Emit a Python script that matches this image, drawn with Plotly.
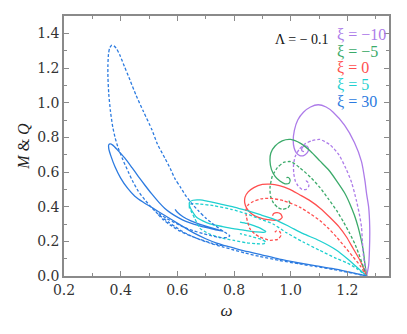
import plotly.graph_objects as go

# ---- data ----
xi_labels = ["ξ = −10", "ξ = −5", "ξ = 0", "ξ = 5", "ξ = 30"]
colors = ["#AD7BE9", "#3BAA6A", "#FF4F4F", "#1FD0D0", "#2C7BE0"]

# xi = -10
w_m10 = [1.268, 1.275, 1.278, 1.279, 1.275, 1.268, 1.262, 1.25, 1.225, 1.19, 1.15, 1.125, 1.097, 1.07, 1.045, 1.025, 1.013, 1.009, 1.012, 1.02, 1.032, 1.046, 1.058, 1.063, 1.058, 1.048, 1.040, 1.040, 1.047]
M_m10 = [0.0, 0.06, 0.15, 0.28, 0.40, 0.473, 0.55, 0.66, 0.77, 0.87, 0.945, 0.975, 0.988, 0.975, 0.945, 0.90, 0.84, 0.78, 0.74, 0.71, 0.695, 0.695, 0.71, 0.73, 0.748, 0.75, 0.738, 0.722, 0.718]
wq_m10 = [1.268, 1.262, 1.256, 1.253, 1.25, 1.242, 1.232, 1.215, 1.195, 1.17, 1.14, 1.103, 1.075, 1.05, 1.030, 1.016, 1.010, 1.011, 1.016, 1.026, 1.040, 1.055, 1.064, 1.062, 1.054, 1.048]
Q_m10 = [0.0, 0.06, 0.13, 0.2, 0.282, 0.36, 0.435, 0.54, 0.62, 0.70, 0.755, 0.788, 0.78, 0.762, 0.73, 0.69, 0.64, 0.59, 0.55, 0.52, 0.50, 0.50, 0.518, 0.538, 0.548, 0.542]

# xi = -5
w_m5 = [1.268, 1.262, 1.256, 1.248, 1.238, 1.225, 1.209, 1.19, 1.162, 1.135, 1.103, 1.07, 1.035, 1.0, 0.97, 0.945, 0.93, 0.927, 0.932, 0.945, 0.962, 0.98, 0.994, 0.998, 0.992, 0.985]
M_m5 = [0.0, 0.07, 0.149, 0.215, 0.282, 0.35, 0.416, 0.48, 0.549, 0.61, 0.664, 0.72, 0.765, 0.788, 0.78, 0.75, 0.71, 0.665, 0.615, 0.575, 0.548, 0.532, 0.535, 0.553, 0.568, 0.568]
wq_m5 = [1.268, 1.257, 1.244, 1.228, 1.209, 1.187, 1.162, 1.133, 1.103, 1.07, 1.032, 1.0, 0.975, 0.953, 0.935, 0.927, 0.929, 0.94, 0.955, 0.972, 0.99, 0.998, 0.994, 0.985]
Q_m5 = [0.0, 0.05, 0.111, 0.18, 0.244, 0.31, 0.378, 0.445, 0.511, 0.57, 0.625, 0.66, 0.655, 0.625, 0.575, 0.51, 0.46, 0.42, 0.395, 0.385, 0.393, 0.415, 0.432, 0.434]

# xi = 0
w_0 = [1.268, 1.257, 1.244, 1.22, 1.197, 1.17, 1.138, 1.105, 1.068, 1.03, 0.997, 0.96, 0.927, 0.90, 0.87, 0.85, 0.839, 0.838, 0.845, 0.856, 0.875, 0.903, 0.935, 0.958, 0.97, 0.965, 0.952, 0.94, 0.936]
M_0 = [0.0, 0.045, 0.092, 0.16, 0.225, 0.285, 0.339, 0.39, 0.435, 0.47, 0.50, 0.522, 0.53, 0.528, 0.51, 0.485, 0.455, 0.42, 0.39, 0.368, 0.345, 0.33, 0.322, 0.322, 0.338, 0.358, 0.366, 0.36, 0.348]
wq_0 = [1.268, 1.26, 1.245, 1.22, 1.19, 1.162, 1.133, 1.103, 1.068, 1.032, 0.974, 0.927, 0.895, 0.868, 0.85, 0.842, 0.844, 0.856, 0.872, 0.891, 0.927, 0.955, 0.966, 0.962, 0.95, 0.944]
Q_0 = [0.0, 0.02, 0.06, 0.111, 0.17, 0.225, 0.275, 0.32, 0.36, 0.397, 0.435, 0.448, 0.445, 0.43, 0.41, 0.38, 0.339, 0.273, 0.245, 0.225, 0.206, 0.212, 0.235, 0.255, 0.26, 0.252]

# xi = 5
w_5 = [1.268, 1.232, 1.2, 1.162, 1.1, 1.044, 0.99, 0.938, 0.89, 0.844, 0.80, 0.75, 0.71, 0.68, 0.655, 0.643, 0.643, 0.652, 0.668, 0.69, 0.715, 0.76, 0.797, 0.84, 0.88, 0.905, 0.912, 0.897, 0.87, 0.845, 0.821]
M_5 = [0.0, 0.053, 0.10, 0.149, 0.205, 0.244, 0.29, 0.33, 0.355, 0.378, 0.398, 0.416, 0.43, 0.439, 0.437, 0.425, 0.405, 0.375, 0.339, 0.318, 0.301, 0.285, 0.273, 0.263, 0.254, 0.252, 0.256, 0.272, 0.29, 0.303, 0.311]
wq_5 = [1.268, 1.232, 1.2, 1.162, 1.1, 1.044, 0.985, 0.938, 0.89, 0.844, 0.79, 0.727, 0.68, 0.655, 0.643, 0.643, 0.65, 0.662, 0.68, 0.71, 0.75, 0.80, 0.844, 0.88, 0.905, 0.912, 0.9, 0.86, 0.821]
Q_5 = [0.0, 0.044, 0.075, 0.101, 0.15, 0.196, 0.25, 0.30, 0.33, 0.359, 0.385, 0.406, 0.415, 0.418, 0.41, 0.39, 0.37, 0.33, 0.275, 0.245, 0.222, 0.205, 0.192, 0.186, 0.186, 0.195, 0.21, 0.228, 0.245]

# xi = 30
w_30 = [1.268, 1.20, 1.15, 1.09, 1.03, 0.96, 0.891, 0.85, 0.809, 0.775, 0.739, 0.70, 0.656, 0.62, 0.585, 0.55, 0.515, 0.48, 0.45, 0.425, 0.40, 0.38, 0.366, 0.358, 0.358, 0.363, 0.372, 0.39, 0.415, 0.44, 0.462, 0.485, 0.509, 0.535, 0.556, 0.58, 0.605, 0.63, 0.66, 0.70, 0.735, 0.762, 0.745, 0.715, 0.68, 0.648, 0.62, 0.60, 0.592]
M_30 = [0.0, 0.025, 0.042, 0.058, 0.075, 0.097, 0.125, 0.14, 0.157, 0.172, 0.19, 0.215, 0.25, 0.285, 0.32, 0.355, 0.39, 0.425, 0.46, 0.505, 0.565, 0.63, 0.69, 0.735, 0.757, 0.762, 0.755, 0.725, 0.68, 0.625, 0.575, 0.525, 0.475, 0.425, 0.39, 0.36, 0.335, 0.315, 0.298, 0.28, 0.266, 0.259, 0.266, 0.28, 0.298, 0.318, 0.342, 0.368, 0.385]
wq_30 = [1.268, 1.20, 1.15, 1.09, 1.03, 0.96, 0.89, 0.84, 0.80, 0.76, 0.72, 0.68, 0.65, 0.62, 0.592, 0.57, 0.545, 0.525, 0.509, 0.485, 0.462, 0.443, 0.427, 0.408, 0.391, 0.38, 0.372, 0.364, 0.358, 0.355, 0.355, 0.357, 0.361, 0.368, 0.376, 0.386, 0.397, 0.413, 0.433, 0.455, 0.48, 0.51, 0.53, 0.556, 0.575, 0.592, 0.61, 0.627, 0.65, 0.675, 0.70, 0.73, 0.76, 0.785, 0.775, 0.75, 0.72, 0.69, 0.655, 0.62, 0.59, 0.56, 0.538, 0.525, 0.532, 0.55, 0.574, 0.61, 0.656, 0.72, 0.76]
Q_30 = [0.0, 0.022, 0.038, 0.054, 0.07, 0.09, 0.113, 0.132, 0.15, 0.168, 0.187, 0.21, 0.23, 0.255, 0.285, 0.31, 0.34, 0.368, 0.395, 0.44, 0.49, 0.545, 0.60, 0.67, 0.74, 0.80, 0.86, 0.95, 1.05, 1.15, 1.22, 1.28, 1.315, 1.331, 1.328, 1.31, 1.275, 1.21, 1.13, 1.04, 0.95, 0.845, 0.76, 0.68, 0.62, 0.56, 0.515, 0.47, 0.42, 0.375, 0.335, 0.295, 0.26, 0.232, 0.222, 0.222, 0.232, 0.245, 0.262, 0.284, 0.308, 0.334, 0.357, 0.37, 0.355, 0.325, 0.295, 0.258, 0.225, 0.19, 0.175]

solid = [(w_m10, M_m10), (w_m5, M_m5), (w_0, M_0), (w_5, M_5), (w_30, M_30)]
dashed = [(wq_m10, Q_m10), (wq_m5, Q_m5), (wq_0, Q_0), (wq_5, Q_5), (wq_30, Q_30)]

x_ticks = [0.2, 0.4, 0.6, 0.8, 1.0, 1.2]
y_ticks = [0.0, 0.2, 0.4, 0.6, 0.8, 1.0, 1.2, 1.4]

fig = go.Figure()
for (wx, my), c in zip(solid, colors):
    fig.add_trace(go.Scatter(x=wx, y=my, mode="lines", showlegend=False,
                             line=dict(color=c, width=1.3, shape="spline", smoothing=0.6)))
for (wx, qy), c in zip(dashed, colors):
    fig.add_trace(go.Scatter(x=wx, y=qy, mode="lines", showlegend=False,
                             line=dict(color=c, width=1.3, dash="3px,2px", shape="spline", smoothing=0.6)))

SERIF = "DejaVu Serif"
TIMES = "Liberation Serif"
axcommon = dict(showline=True, linecolor="#8a8a8a", linewidth=1.5, mirror="ticks",
                ticks="inside", ticklen=5, tickwidth=1.2, tickcolor="#8a8a8a",
                showgrid=False, zeroline=False,
                tickfont=dict(family=SERIF, size=14, color="#333"),
                minor=dict(ticks="inside", ticklen=3, tickcolor="#8a8a8a", dtick=0.1, showgrid=False))

fig.update_xaxes(range=[0.2, 1.347], tickvals=x_ticks, ticktext=[f"{v:.1f}" for v in x_ticks],
                 title=dict(text="<i>ω</i>", font=dict(family=TIMES, size=17, color="#222"), standoff=8),
                 **axcommon)
fig.update_yaxes(range=[0, 1.5], tickvals=y_ticks, ticktext=[f"{v:.1f}" for v in y_ticks],
                 title=dict(text="<i>M</i> & <i>Q</i>", font=dict(family=TIMES, size=16, color="#222"), standoff=4),
                 **axcommon)

fig.add_annotation(x=0.732, y=0.908, xref="paper", yref="paper", text="Λ = − 0.1", showarrow=False,
                   font=dict(family=TIMES, size=14, color="#111"), xanchor="center", yanchor="middle")
leg_y = [0.929, 0.862, 0.800, 0.738, 0.672]
for t, c, yy in zip(xi_labels, colors, leg_y):
    fig.add_annotation(x=0.835, y=yy, xref="paper", yref="paper", text=t, showarrow=False,
                       font=dict(family=TIMES, size=16, color=c), xanchor="left", yanchor="middle")

# page body has an 8px margin, so the figure is shrunk/shifted to keep the plot area in place
fig.update_layout(width=399, height=326, margin=dict(l=56, r=18, t=6, b=58),
                  plot_bgcolor="white", paper_bgcolor="white")
fig.write_html("out.html")
